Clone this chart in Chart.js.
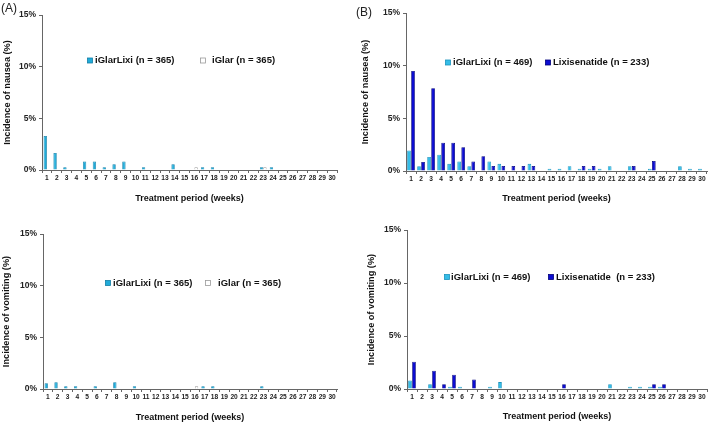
<!DOCTYPE html>
<html><head><meta charset="utf-8">
<script src="https://cdn.jsdelivr.net/npm/chart.js@4/dist/chart.umd.min.js"></script>
<style>
body{margin:0;background:#fff;width:709px;height:422px;position:relative;overflow:hidden;font-family:"Liberation Sans",Arial,sans-serif}
canvas{position:absolute}
.lab{position:absolute;font-size:12px;color:#222;z-index:5;line-height:1}
</style></head><body>
<canvas id="cA1" style="left:0;top:0" width="354" height="211"></canvas>
<canvas id="cB1" style="left:354px;top:0" width="355" height="211"></canvas>
<canvas id="cA2" style="left:0;top:211px" width="354" height="211"></canvas>
<canvas id="cB2" style="left:354px;top:211px" width="355" height="211"></canvas>
<div class="lab" style="left:1px;top:2px">(A)</div>
<div class="lab" style="left:356px;top:6px">(B)</div>
<script>
// ---- data ----
const weeks = Array.from({length:30},(_,i)=>String(i+1));
const yTickValues = [0,5,10,15];

const aNauseaIGlarLixi = [3.3,1.64,0.27,0,0.82,0.82,0.27,0.55,0.82,0,0.27,0,0,0.55,0,0,0.27,0.27,0,0,0,0,0.27,0.27,0,0,0,0,0,0];
const aNauseaIGlar     = [0,0,0,0,0,0,0,0,0,0,0,0,0,0,0,0.27,0,0,0,0,0,0,0.27,0,0,0,0,0,0,0];
const aVomitIGlarLixi  = [0.55,0.65,0.27,0.27,0,0.27,0,0.65,0,0.27,0,0,0,0,0,0,0.27,0.27,0,0,0,0,0.27,0,0,0,0,0,0,0];
const aVomitIGlar      = [0,0,0,0,0,0,0,0,0,0,0,0,0,0,0,0.27,0,0,0,0,0,0,0,0,0,0,0,0,0,0];

const bNauseaIGlarLixi = [1.95,0.45,1.33,1.55,0.68,0.9,0.45,0,0.9,0.68,0,0,0.68,0,0.22,0.22,0.45,0.22,0.22,0.22,0.45,0,0.45,0,0.22,0,0,0.45,0.22,0.22];
const bNauseaLixi      = [9.5,0.86,7.85,2.68,2.68,2.26,0.9,1.4,0.47,0.47,0.47,0.47,0.47,0,0,0,0,0.47,0.47,0,0,0,0.47,0,0.95,0,0,0,0,0];
const bVomitIGlarLixi  = [0.8,0,0.45,0,0.22,0.22,0,0,0.22,0.65,0,0,0,0,0,0,0,0,0,0,0.45,0,0.22,0.22,0.22,0.22,0,0,0,0];
const bVomitLixi       = [2.58,0,1.73,0.45,1.35,0,0.9,0,0,0,0,0,0,0,0,0.45,0,0,0,0,0,0,0,0,0.45,0.45,0,0,0,0];

const labelsA = ['iGlarLixi (n = 365)','iGlar (n = 365)'];
const labelsBN = ['iGlarLixi (n = 469)','Lixisenatide (n = 233)'];
const labelsBV = ['iGlarLixi (n = 469)','Lixisenatide  (n = 233)'];

// ---- styling ----
Chart.defaults.font.family = '"Liberation Sans", Arial, sans-serif';
const TEAL = '#20abd9', TEAL_B = '#137ea6';
const LIGHT = '#35bde7', LIGHT_B = '#1b93bd';
const DARK = '#0c0cd2', DARK_B = '#00007c';
const AXIS = '#666';

const inLegend = {
  id:'inLegend',
  afterDraw(chart, args, o){
    const ctx = chart.ctx;
    ctx.save();
    ctx.font = 'bold 9.5px "Liberation Sans", Arial, sans-serif';
    ctx.textBaseline = 'middle';
    chart.data.datasets.forEach((ds,i)=>{
      const sx = o.sq[i], tx = o.tx[i], y = o.y;
      ctx.fillStyle = ds.backgroundColor;
      ctx.fillRect(sx-2.5, y-2.5, 5, 5);
      ctx.strokeStyle = ds.borderColor; ctx.lineWidth = 0.8;
      ctx.strokeRect(sx-2.5, y-2.5, 5, 5);
      ctx.fillStyle = '#111';
      ctx.fillText(ds.label, tx, y);
    });
    ctx.restore();
  }
};

function makeChart(id, cfg){
  const ds = cfg.series.map((s,i)=>({
    label: cfg.labels[i], data: s.data,
    backgroundColor: s.bg, borderColor: s.bc, borderWidth: 0.8,
    categoryPercentage: cfg.cat, barPercentage: cfg.bar
  }));
  new Chart(document.getElementById(id), {
    type:'bar',
    data:{labels: weeks, datasets: ds},
    plugins:[inLegend],
    options:{
      responsive:false, animation:false, devicePixelRatio:1,
      layout:{padding:{left:0, top:cfg.top, right:cfg.right, bottom:0}},
      plugins:{legend:{display:false}, tooltip:{enabled:false},
        inLegend:{sq:cfg.sq, tx:cfg.tx, y:cfg.ly}},
      scales:{
        x:{
          grid:{display:true, drawOnChartArea:false, drawTicks:true, tickLength:3, color:AXIS, offset:true},
          border:{display:true, color:AXIS, width:1},
          ticks:{font:{size:6.6, weight:'bold'}, color:'#222', maxRotation:0, minRotation:0, autoSkip:false, padding:1.5},
          title:{display:true, text:'Treatment period (weeks)', font:{size:9, weight:'bold'}, color:'#111', padding:{top:0, bottom:cfg.xtp}},
          afterFit(s){ s.height = cfg.xh; }
        },
        y:{
          min:0, max:15,
          afterBuildTicks(s){ s.ticks = yTickValues.map(v=>({value:v})); },
          ticks:{callback:v=>v+'%', font:{size:8.5, weight:'bold'}, color:'#222', padding:3},
          grid:{display:true, drawOnChartArea:false, drawTicks:true, tickLength:3, color:AXIS},
          border:{display:true, color:AXIS, width:1},
          title:{display:true, text:cfg.ytitle, font:{size:9.2, weight:'bold'}, color:'#111', padding:{top:cfg.ytp, bottom:0}},
          afterFit(s){ s.width = cfg.yw; }
        }
      }
    }
  });
}

makeChart('cA1', {
  labels: labelsA,
  series:[{data:aNauseaIGlarLixi, bg:TEAL, bc:TEAL_B},{data:aNauseaIGlar, bg:'#ffffff', bc:'#9a9a9a'}],
  cat:0.68, bar:1, top:15, right:17, xh:41, yw:42, xtp:7, ytp:2,
  ytitle:'Incidence of nausea (%)', sq:[90,203], tx:[95,212], ly:60.5
});
makeChart('cA2', {
  labels: labelsA,
  series:[{data:aVomitIGlarLixi, bg:TEAL, bc:TEAL_B},{data:aVomitIGlar, bg:'#ffffff', bc:'#9a9a9a'}],
  cat:0.68, bar:1, top:23, right:17, xh:33, yw:43, xtp:-1, ytp:1,
  ytitle:'Incidence of vomiting (%)', sq:[108,208], tx:[113,218], ly:72
});
makeChart('cB1', {
  labels: labelsBN,
  series:[{data:bNauseaIGlarLixi, bg:LIGHT, bc:LIGHT_B},{data:bNauseaLixi, bg:DARK, bc:DARK_B}],
  cat:0.8, bar:0.92, top:13, right:2, xh:40, yw:52, xtp:7, ytp:6,
  ytitle:'Incidence of nausea (%)', sq:[94,194], tx:[99,199], ly:62.5
});
makeChart('cB2', {
  labels: labelsBV,
  series:[{data:bVomitIGlarLixi, bg:LIGHT, bc:LIGHT_B},{data:bVomitLixi, bg:DARK, bc:DARK_B}],
  cat:0.8, bar:0.92, top:19, right:2, xh:33, yw:53, xtp:0, ytp:12,
  ytitle:'Incidence of vomiting (%)', sq:[93,197], tx:[97,202], ly:66
});
</script>
</body></html>
